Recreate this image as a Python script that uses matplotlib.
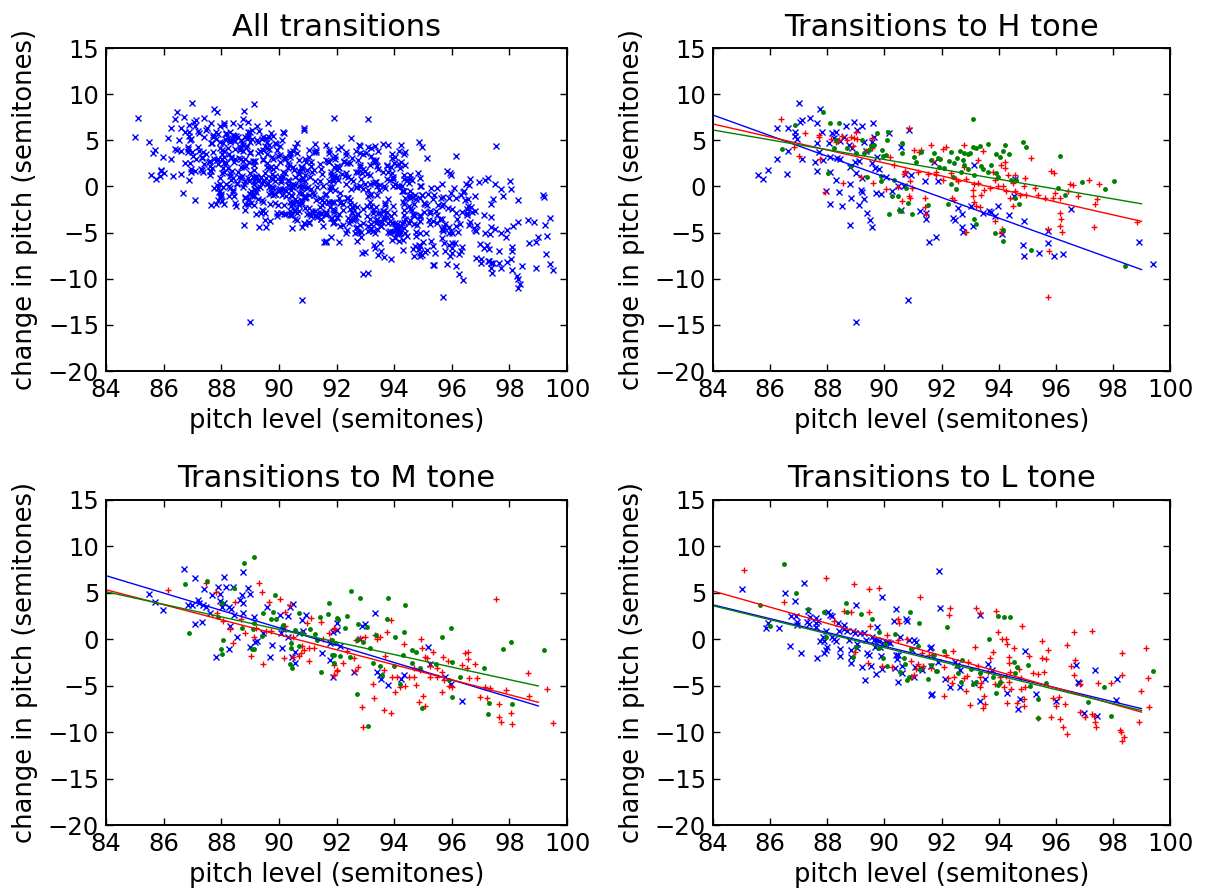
import numpy as np
import matplotlib
matplotlib.use('Agg')
import matplotlib.pyplot as plt

# points: (pitch level, change in pitch)
# transitions to H tone
h_blue = [(87.0,9.07),(87.76,8.42),(85.57,1.26),(85.75,0.83),(85.92,1.8),(86.24,3.02),(86.24,6.37),(86.61,6.37),
          (86.61,3.85),(86.59,1.4),(86.88,5.94),(86.88,5.47),(86.94,5.11),(87.06,7.02),(87.12,7.2),(87.41,7.38),
          (87.12,2.99),(87.64,6.84),(87.64,4.68),(87.58,2.7),(87.64,1.73),(87.72,3.78),(87.82,5.87),(87.84,2.88),
          (87.94,-0.54),(88.05,4.68),(88.11,3.24),(88.11,1.62),(88.09,-1.87),(88.17,5.76),(88.23,5.22),(88.29,5.94),
          (88.32,0.72),(88.35,3.06),(88.4,-0.65),(88.46,4.93),(88.46,3.0),(88.52,-2.09),(88.58,5.4),(88.64,6.55),
          (88.76,4.5),(88.79,2.09),(88.79,0.29),(88.79,-4.14),(88.82,-1.26),(88.87,4.14),(88.93,7.02),(88.96,2.7),
          (88.99,1.44),(89.05,6.12),(89.1,2.77),(89.12,-2.05),(89.17,-0.36),(89.2,-0.65),(89.23,6.55),(89.23,0.9),
          (89.28,-1.33),(89.28,4.86),(89.35,3.85),(89.38,-2.88),(89.5,-3.6),(89.56,-4.39),(89.58,4.79),(89.58,2.52),
          (89.61,6.84),(89.64,5.4),(89.66,1.98),(89.71,-0.72),(89.75,3.24),(89.81,1.87),(89.87,-0.79),(90.05,1.08),
          (90.16,5.76),(90.25,-0.47),(90.46,0.0),(90.57,-2.59),(90.69,0.0),(90.81,-12.3),(90.87,6.12),(90.92,1.26),
          (91.25,-2.7),(91.42,0.54),(91.45,-2.88),(91.45,-3.53),(91.55,-6.05),(91.8,-5.47),(88.99,-14.69),(90.57,4.25),
          (90.71,1.33),(91.75,2.7),(91.86,0.54),(92.57,-2.34),(92.71,-2.95),(92.39,-3.42),(92.47,-3.67),(92.71,-4.39),
          (92.74,-4.97),(93.09,-4.25),(93.04,-2.09),(93.15,2.34),(93.45,-2.88),(93.65,-2.7),(93.74,-2.81),(93.88,-3.17),
          (93.97,-2.09),(94.11,-5.11),(94.35,-3.06),(94.56,0.79),(94.54,-1.01),(94.89,-3.78),(94.85,-6.37),(94.89,-7.56),
          (95.4,-7.2),(95.73,-6.12),(95.71,-4.79),(95.94,-7.56),(96.26,-7.31),(96.53,-2.45),(98.92,-6.01),(99.42,-8.35)]
h_red = [(86.39,7.27),(86.85,4.32),(87.01,3.31),(87.21,5.83),(87.72,5.58),(87.72,5.33),(87.73,2.99),(87.91,-0.65),
         (88.14,5.11),(88.29,4.86),(88.4,5.04),(88.52,5.47),(88.55,0.43),(88.7,5.04),(88.82,5.33),(88.9,4.39),
         (88.93,5.22),(88.99,5.94),(89.05,5.11),(89.19,1.08),(89.34,3.85),(89.55,5.22),(89.58,4.14),(89.61,0.36),
         (90.05,-0.22),(90.2,3.17),(90.34,2.34),(90.49,-0.07),(90.63,-1.55),(90.69,1.37),(90.71,1.69),(90.87,6.3),
         (90.87,-1.08),(90.9,0.54),(90.98,-0.18),(91.04,3.96),(91.16,1.62),(91.22,3.78),(91.28,3.96),(91.42,-1.26),
         (91.42,-2.27),(91.45,-2.99),(91.51,1.37),(91.63,4.5),(91.69,2.81),(91.8,1.62),(90.9,-1.26),(92.04,4.03),
         (92.16,4.32),(92.78,4.5),(93.45,3.89),(93.27,2.88),(94.23,2.7),(94.09,2.34),(95.14,3.13),(95.82,1.69),
         (95.94,1.51),(96.49,0.29),(96.61,0.18),(97.16,0.72),(97.51,0.29),(97.37,-1.91),(97.35,-4.39),(98.84,-3.89),
         (95.71,-11.95),(95.75,-6.95),(95.71,-4.57),(96.14,-2.88),(96.18,-3.53),(96.15,-4.25),(96.2,-4.97),(96.14,-1.26),
         (95.91,-1.26),(95.97,-0.72),(96.43,-0.54),(96.79,-1.01),(97.43,-1.33),(91.81,1.26),(92.04,0.72),(92.33,1.51),
         (92.51,0.79),(92.57,0.54),(92.8,2.09),(92.86,0.79),(93.09,-0.36),(93.09,-1.08),(93.15,0.29),(93.27,0.43),
         (93.39,-0.9),(93.48,-0.36),(93.68,-0.18),(93.8,1.62),(93.86,0.72),(93.97,0.0),(94.15,0.07),(94.21,1.98),
         (94.33,1.26),(94.5,0.36),(94.56,1.26),(94.56,-0.54),(94.73,-0.9),(94.89,0.07),(94.91,0.9),(94.97,-0.9),
         (95.26,-0.18),(95.38,-0.9),(95.61,-1.26),(94.38,-1.26),(94.27,-0.54),(94.5,-2.16),(93.86,-3.78),(94.13,-4.61),
         (94.09,-5.04),(92.86,-4.97),(93.15,-1.73),(93.21,-2.16),(93.36,-2.23),(92.36,-1.26),(92.45,-1.51)]
h_green = [(87.85,8.03),(86.88,6.66),(86.41,4.03),(88.11,6.91),(88.29,5.04),(88.4,6.91),(88.03,1.44),(88.23,4.14),
           (88.7,4.14),(88.84,2.23),(88.99,3.67),(89.23,5.04),(89.28,3.67),(89.38,1.08),(89.46,3.96),(89.52,4.39),
           (89.64,4.5),(89.73,5.83),(89.87,0.54),(89.93,3.96),(89.96,3.31),(90.05,3.42),(90.1,5.04),(90.14,5.94),
           (90.16,-2.95),(90.25,-1.08),(90.32,0.72),(90.46,-1.08),(90.52,-2.52),(90.57,-2.7),(90.63,4.75),(90.63,3.6),
           (90.77,-0.18),(90.81,-1.8),(90.98,-2.99),(91.04,3.24),(91.1,2.7),(91.28,3.78),(91.51,-1.98),(91.63,2.88),
           (91.75,3.6),(91.86,3.06),(91.9,2.09),(89.87,1.15),(93.09,7.27),(94.85,4.86),(94.97,4.25),(96.14,3.31),
           (96.93,0.47),(97.72,-0.22),(98.02,0.54),(98.43,-8.64),(91.96,3.02),(92.27,2.81),(92.33,3.78),(92.45,2.59),
           (92.54,3.06),(92.66,3.89),(92.8,3.67),(92.92,3.53),(92.74,2.88),(92.8,2.34),(93.01,3.6),(93.09,4.32),
           (93.21,4.14),(93.33,4.39),(93.45,1.87),(93.62,4.61),(93.74,2.34),(93.91,3.53),(93.97,1.08),(94.03,3.17),
           (94.15,3.89),(94.23,4.5),(94.35,3.53),(94.44,0.72),(94.56,-1.26),(94.7,-1.87),(95.14,-6.84),(93.15,-3.53),
           (93.21,-4.03),(93.86,-5.04),(94.15,-5.94),(92.22,-1.91),(92.51,-0.22),(92.33,0.29),(92.39,1.08),(93.39,2.23),
           (93.62,1.62),(93.91,1.44),(93.15,1.26),(96.08,-0.18),(96.32,-0.9),(94.15,-4.68),(94.62,0.72),(92.92,1.87),
           (92.68,1.62),(92.1,1.98)]

# transitions to M tone
m_blue = [(86.69,7.52),(87.07,6.55),(85.5,4.84),(85.7,3.97),(85.97,3.15),(86.86,3.69),(86.97,3.69),(87.09,1.65),
          (87.18,4.23),(87.21,3.87),(87.32,1.82),(87.38,3.69),(87.41,5.37),(87.47,3.51),(87.61,2.79),(87.67,4.76),
          (87.87,5.66),(87.96,4.87),(88.02,3.51),(87.96,4.12),(88.08,6.66),(88.1,3.87),(88.17,5.66),(88.25,3.51),
          (88.25,-1.08),(88.31,1.43),(88.33,3.22),(88.42,5.59),(88.44,2.61),(88.54,0.28),(88.65,4.23),(88.71,4.76),
          (88.75,3.87),(88.75,7.27),(88.77,2.79),(88.92,5.48),(89.0,4.87),(89.0,-0.86),(89.14,2.36),(89.17,-0.25),
          (89.23,-0.15),(87.82,-1.94),(89.44,0.64),(89.58,3.51),(89.69,-1.86),(89.75,-0.61),(90.04,2.61),(90.06,0.71),
          (90.1,-0.97),(90.13,1.08),(90.33,2.5),(90.39,3.51),(90.48,3.8),(90.33,0.21),(90.47,-1.86),(90.54,-2.58),
          (90.56,-1.33),(90.79,2.07),(90.85,0.93),(90.94,2.61),(90.71,0.71),(91.49,-1.51),(91.78,-2.22),(91.87,-4.01),
          (91.87,0.82),(92.01,1.0),(93.34,2.79),(92.03,1.79),(92.88,1.43),(93.0,1.65),(92.8,0.0),(92.13,-0.72),
          (92.59,-3.55),(93.42,-3.48),(93.49,-3.84),(93.54,-4.3),(93.77,-4.91),(94.23,-4.3),(94.33,-3.84),(95.19,-0.86),
          (95.23,-2.69),(95.77,-4.08),(95.97,-4.8),(96.35,-6.6),(91.78,-0.43)]
m_red = [(86.16,5.3),(87.47,6.09),(87.81,5.12),(87.84,2.86),(88.07,2.0),(88.31,1.11),(88.4,-0.43),(88.46,4.05),
         (88.68,2.15),(88.83,0.64),(89.03,-1.79),(89.12,0.28),(89.32,6.02),(89.42,5.12),(89.46,-2.65),(89.54,0.93),
         (89.66,4.05),(89.72,0.93),(90.04,4.34),(90.22,2.97),(90.22,1.43),(90.16,-2.04),(90.39,3.69),(90.48,0.28),
         (90.5,-1.86),(90.68,-1.79),(90.77,-1.51),(90.79,-0.72),(90.88,-1.15),(90.97,1.79),(91.03,-0.97),(91.03,-2.29),
         (91.11,2.25),(91.2,-0.97),(91.45,1.9),(91.52,0.0),(91.72,0.64),(91.76,-0.08),(91.9,1.08),(92.03,-3.3),
         (91.9,-3.84),(89.21,1.18),(93.89,2.07),(93.75,0.82),(93.34,0.46),(93.49,0.21),(93.0,0.28),(92.68,-0.08),
         (92.82,0.1),(93.4,0.0),(94.35,-0.5),(94.93,0.0),(94.96,-0.97),(95.08,-1.94),(95.14,-2.04),(95.34,-1.33),
         (95.69,-1.86),(95.85,-2.29),(96.35,-2.76),(96.47,-1.51),(96.55,-1.33),(96.55,-2.15),(96.53,-3.12),(96.81,-2.65),
         (97.54,4.34),(98.64,-3.66),(99.3,-5.38),(99.51,-9.04),(98.67,-6.1),(98.05,-7.89),(98.09,-9.1),(97.71,-8.86),
         (97.65,-8.32),(97.62,-6.99),(97.89,-5.45),(97.16,-5.09),(97.31,-5.2),(96.99,-6.24),(97.22,-6.35),(96.58,-4.19),
         (96.87,-4.19),(96.0,-5.09),(95.89,-5.02),(95.72,-4.37),(95.66,-5.63),(95.48,-3.12),(95.48,-4.01),(95.66,-3.48),
         (95.25,-4.08),(95.23,-2.87),(95.0,-6.06),(95.08,-7.14),(94.85,-6.78),(94.77,-4.91),(94.67,-4.08),(94.67,-3.12),
         (94.88,-3.3),(94.5,-4.01),(94.38,-5.02),(94.21,-5.09),(94.1,-4.08),(94.04,-5.63),(93.92,-4.01),(93.9,-7.89),
         (93.66,-7.6),(93.63,-3.3),(93.69,-1.79),(93.31,-6.35),(93.25,-4.84),(92.88,-7.25),(92.9,-9.47),(92.73,-2.94),
         (92.65,-3.41),(92.59,-2.04),(92.24,-2.51),(91.92,-2.76),(92.03,-3.37),(91.9,-3.84),(92.36,-1.26),(91.9,1.18)]
m_green = [(89.14,8.89),(88.79,8.17),(86.74,5.95),(87.52,6.3),(86.89,0.71),(88.07,-0.08),(87.98,-1.08),(88.02,-1.58),
           (88.02,3.94),(87.9,2.43),(88.44,5.48),(88.71,1.18),(89.06,-1.08),(89.14,-1.08),(89.14,1.79),(89.09,1.07),
           (89.41,0.35),(89.46,2.86),(89.73,2.15),(89.79,2.97),(89.87,4.76),(89.9,2.15),(90.13,1.54),(90.37,-2.65),
           (90.47,-3.12),(90.42,-0.43),(90.42,-0.97),(90.56,1.0),(90.68,2.86),(90.7,-0.72),(90.79,0.71),(91.08,1.07),
           (91.26,0.57),(91.31,-0.08),(91.41,2.43),(91.45,-3.48),(91.7,2.72),(91.72,3.94),(91.84,-0.08),(91.9,-1.69),
           (91.95,-0.43),(92.04,2.15),(92.5,5.23),(92.82,4.4),(93.77,4.47),(94.38,3.69),(92.03,2.25),(92.36,2.54),
           (92.3,1.18),(92.73,1.61),(93.05,1.36),(93.38,0.46),(93.75,2.18),(94.04,0.28),(94.35,0.82),(94.62,-1.15),
           (94.77,-1.4),(95.66,0.28),(95.97,1.25),(97.76,-1.04),(98.06,-0.25),(99.21,-1.15),(92.71,-5.91),(93.08,-9.33),
           (94.96,-7.43),(96.0,-6.17),(96.27,-4.09),(97.13,-3.05),(97.24,-8.07),(97.28,-6.81),(98.09,-6.99),(92.13,-1.79),
           (92.47,-1.86),(93.17,-0.97),(93.28,-2.58),(93.52,-2.87),(93.57,-3.84),(94.21,-4.81),(94.62,-2.51),(94.9,-3.12),
           (95.46,-2.65),(95.89,-4.37),(96.0,-2.4),(91.84,-1.69),(91.9,-2.51),(92.71,-0.08),(92.91,-0.25),(93.98,-2.87),
           (94.3,-1.69)]

# transitions to L tone
l_blue = [(85.01,5.4),(85.86,1.17),(85.92,1.72),(86.32,1.17),(86.68,-0.68),(86.53,5.0),(86.86,4.11),(86.73,2.5),
          (86.92,2.5),(86.94,1.9),(86.94,1.54),(87.08,-1.51),(87.2,6.01),(87.32,3.08),(87.39,2.43),(87.35,1.61),
          (87.29,1.9),(87.62,2.25),(87.62,1.72),(87.62,1.29),(87.67,1.97),(87.64,-2.04),(87.73,-0.15),(87.85,0.21),
          (87.88,-0.15),(87.88,-1.51),(87.94,0.93),(87.97,-1.15),(88.0,-0.86),(88.03,2.97),(88.09,2.57),(88.15,2.54),
          (88.17,0.28),(88.25,0.0),(88.29,-0.18),(88.37,1.72),(88.41,0.93),(88.44,-1.08),(88.46,-1.79),(88.58,1.54),
          (88.6,1.07),(88.7,0.93),(88.76,-0.08),(88.82,-1.15),(88.82,-1.86),(88.82,-2.51),(88.91,0.93),(88.96,0.64),
          (89.01,3.69),(89.03,-0.5),(89.05,-0.97),(89.14,0.64),(89.2,-3.01),(89.28,0.64),(89.31,-4.37),(89.34,-0.08),
          (89.4,-1.44),(89.46,-1.69),(89.52,-2.87),(89.58,0.28),(89.64,-0.08),(89.66,-0.86),(89.69,-3.73),(89.75,1.36),
          (89.75,-0.08),(89.81,-0.15),(89.85,-0.79),(89.87,-1.79),(89.9,4.58),(89.93,-3.23),(89.96,-0.43),(90.05,-0.25),
          (90.13,-0.25),(90.2,-0.43),(90.32,2.0),(90.37,-3.05),(90.4,3.22),(90.4,-1.69),(90.43,-2.15),(90.46,-4.55),
          (90.48,-1.69),(90.55,0.21),(90.61,-3.59),(90.63,-2.87),(90.75,2.14),(90.79,1.93),(90.87,-0.08),(90.95,-1.15),
          (91.02,-0.08),(91.04,-4.01),(91.07,-2.94),(91.1,-0.25),(91.28,-3.12),(91.33,-3.3),(91.6,-0.9),(91.65,-5.92),
          (91.92,7.38),(91.96,3.33),(91.89,-2.4),(93.33,2.65),(91.63,-0.86),(91.63,-2.87),(91.63,-5.99),(92.12,-4.3),
          (92.31,-5.09),(92.47,-2.4),(92.54,-2.76),(92.66,-3.3),(92.63,-5.09),(93.15,-4.73),(93.33,-6.63),(93.53,-4.3),
          (93.62,-2.65),(93.76,-3.3),(94.3,-5.81),(94.68,-7.53),(94.73,-6.45),(94.91,-1.22),(95.29,-5.88),(95.99,-6.63),
          (96.69,-2.76),(96.76,-4.55),(96.81,-4.73),(97.0,-7.89),(97.37,-3.3),(97.43,-8.25),(98.13,-4.3),(98.1,-6.52)]
l_red = [(85.1,7.41),(86.47,4.0),(87.94,6.55),(88.23,2.0),(88.6,3.04),(88.82,2.97),(88.93,5.91),(89.46,5.37),
         (89.46,2.97),(89.5,1.43),(89.81,5.48),(90.08,0.46),(89.93,-2.83),(89.42,-2.51),(90.48,2.14),(90.51,1.79),
         (90.46,-0.08),(90.79,0.0),(90.92,-2.33),(91.04,-3.84),(91.1,-3.23),(91.16,-2.65),(91.25,4.58),(91.3,-1.44),
         (91.36,-2.87),(91.57,-1.69),(91.63,-3.12),(90.92,-4.08),(88.96,-1.33),(90.25,-2.94),(92.31,3.4),(92.25,2.61),
         (93.21,3.33),(93.36,2.86),(93.91,3.04),(93.97,0.82),(94.11,0.0),(94.27,0.03),(94.3,-0.5),(94.82,1.43),
         (93.18,-0.86),(92.39,-1.22),(92.16,-1.69),(92.92,-2.4),(93.68,-2.04),(93.8,-1.4),(94.35,-1.86),(94.54,-0.97),
         (94.7,-3.23),(95.05,-1.79),(95.5,-0.15),(95.71,-1.15),(95.52,-2.04),(95.67,-2.15),(95.2,-3.66),(95.36,-3.73),
         (95.59,-3.52),(96.38,-0.61),(96.53,-2.87),(96.64,0.82),(96.67,-2.22),(96.64,-3.84),(97.25,0.89),(98.31,-1.44),
         (98.31,-3.84),(99.16,-0.97),(99.22,-4.19),(98.99,-5.52),(99.27,-7.31),(98.92,-8.86),(98.25,-9.75),(98.28,-10.0),
         (98.37,-10.57),(98.31,-11.0),(97.37,-8.86),(97.39,-9.4),(97.35,-8.25),(97.28,-8.03),(97.49,-4.66),(97.92,-4.73),
         (96.84,-4.8),(96.84,-7.78),(97.02,-8.32),(96.38,-10.18),(96.26,-9.47),(96.14,-8.61),(95.82,-8.4),(95.99,-7.17),
         (95.91,-6.35),(96.12,-6.17),(96.32,-6.99),(95.36,-8.5),(94.89,-7.17),(94.89,-6.45),(94.77,-5.38),(94.91,-5.09),
         (94.65,-6.81),(94.3,-6.88),(94.18,-5.16),(94.44,-5.38),(94.35,-4.55),(94.27,-3.95),(94.03,-4.01),(94.09,-4.55),
         (93.86,-4.8),(93.5,-6.1),(93.53,-6.99),(93.45,-7.42),(93.0,-7.06),(92.84,-5.52),(92.8,-4.19),(92.9,-3.95),
         (92.43,-4.01),(92.36,-4.73),(92.24,-4.19),(92.1,-6.06),(93.33,-5.09),(93.39,-4.66),(93.36,-4.01),(93.62,-3.48),
         (93.27,-2.87),(94.38,-3.48),(92.1,-2.94),(94.35,-2.58),(94.79,-4.19)]
l_green = [(86.47,8.1),(86.92,5.0),(85.63,3.65),(86.0,1.43),(87.32,3.22),(87.9,2.97),(88.66,3.94),(88.68,2.97),
           (89.17,2.72),(89.58,2.14),(89.81,0.82),(89.81,-0.97),(90.01,-0.5),(89.96,-2.04),(90.08,-2.87),(90.36,0.57),
           (90.69,-2.04),(90.71,-2.65),(90.55,-3.48),(90.79,-4.37),(90.87,-4.01),(90.9,2.97),(90.92,-1.08),(91.22,1.79),
           (91.18,-0.72),(91.25,-3.23),(91.53,-4.3),(91.63,-2.76),(91.72,-1.69),(91.84,-3.37),(88.99,-0.79),(88.91,-1.94),
           (87.97,0.28),(93.99,2.5),(94.18,2.43),(94.38,2.36),(92.19,1.36),(93.65,0.0),(92.08,-1.22),(91.81,-3.37),
           (91.69,-1.69),(92.54,-2.87),(92.71,-2.22),(92.57,-3.66),(92.68,-4.55),(93.09,-4.8),(93.21,-4.55),(93.36,-3.66),
           (93.8,-4.01),(94.03,-4.55),(93.97,-4.91),(93.91,-5.81),(94.54,-2.4),(94.65,-2.94),(95.03,-2.76),(95.09,-5.02),
           (95.36,-6.45),(95.38,-8.5),(95.67,-4.66),(97.11,-6.7),(97.7,-5.09),(97.93,-8.21),(99.39,-3.37),(94.56,-3.66),
           (93.04,-3.23)]

# regression lines: (slope, intercept)
h_fits = [(-1.116, 101.48), (-0.703, 65.82), (-0.533, 50.89)]
m_fits = [(-0.935, 85.39), (-0.808, 73.21), (-0.676, 61.90)]
l_fits = [(-0.745, 66.29), (-0.869, 78.19), (-0.752, 66.78)]
fit_range = [84, 99]

titles = ["All transitions", "Transitions to H tone", "Transitions to M tone", "Transitions to L tone"]
colors = ['b', 'r', 'g']
markers = [('x', 4), ('+', 5), ('.', 5)]

fig = plt.figure(figsize=(12.12, 8.93), dpi=100)
rects = [[0.0875, 0.5845, 0.3804, 0.3617], [0.5883, 0.5845, 0.3771, 0.3617],
         [0.0875, 0.0761, 0.3804, 0.3640], [0.5883, 0.0761, 0.3771, 0.3640]]
axes = [fig.add_axes(r) for r in rects]

def style(ax, title):
    ax.set_xlim(84, 100)
    ax.set_ylim(-20, 15)
    ax.set_xticks(np.arange(84, 101, 2))
    ax.set_yticks(np.arange(-20, 16, 5))
    ax.tick_params(direction='in', top=True, right=True, length=5, width=1, labelsize=17.5, pad=5)
    for s in ax.spines.values():
        s.set_linewidth(1.4)
    ax.set_title(title, fontsize=22, pad=9)
    ax.set_xlabel("pitch level (semitones)", fontsize=18.5, labelpad=4)
    ax.set_ylabel("change in pitch (semitones)", fontsize=18.5, labelpad=7)

groups = [(h_blue, h_red, h_green), (m_blue, m_red, m_green), (l_blue, l_red, l_green)]
fits = [h_fits, m_fits, l_fits]

# all transitions = every point in the three sub-panels
all_pts = np.array(h_blue + h_red + h_green + m_blue + m_red + m_green + l_blue + l_red + l_green)
axes[0].plot(all_pts[:, 0], all_pts[:, 1], 'bx', ms=4, mew=1)
style(axes[0], titles[0])

for ax, title, series, fit in zip(axes[1:], titles[1:], groups, fits):
    xs = np.array(fit_range)
    for pts, c, (mk, ms) in zip(series, colors, markers):
        p = np.array(pts)
        ax.plot(p[:, 0], p[:, 1], linestyle='none', marker=mk, color=c, ms=ms, mew=1)
    for (m, b), c in zip(fit, colors):
        ax.plot(xs, m * xs + b, color=c, lw=1)
    style(ax, title)

fig.savefig('out.png', dpi=100)
